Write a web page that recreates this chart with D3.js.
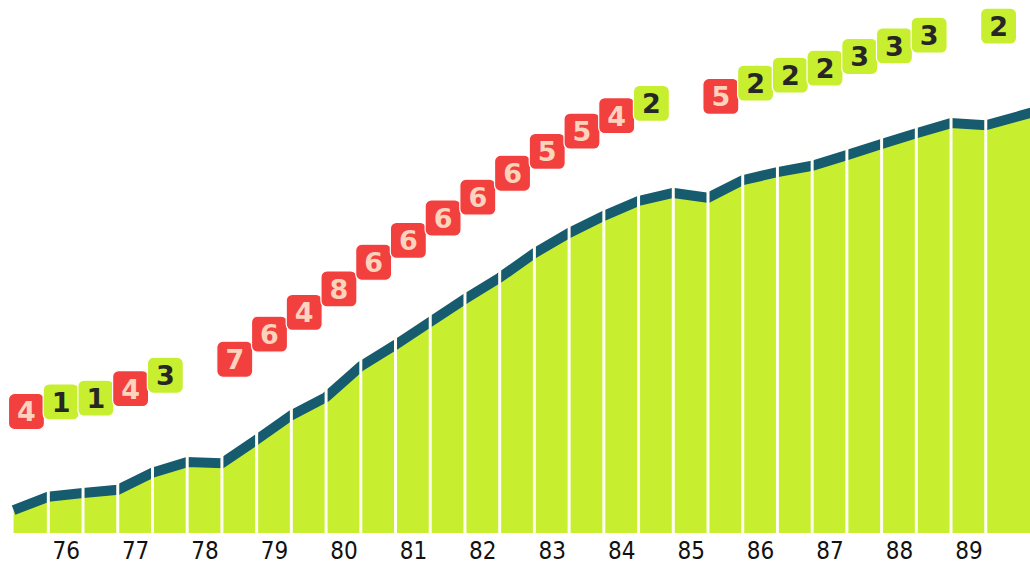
<!DOCTYPE html>
<html>
<head>
<meta charset="utf-8">
<script src="https://cdn.jsdelivr.net/npm/d3@7"></script>
<style>
  html, body { margin: 0; padding: 0; background: #fff; }
  svg { display: block; }
</style>
</head>
<body>
<svg id="chart" width="1030" height="564"></svg>
<script>
// ---- data (half-year steps, index 0 = start of chart) ----
const lineValues = [4.3, 6.8, 7.5, 8.1, 11.3, 13.3, 13.1, 17.5, 22.1, 25.5,
                    31.3, 35.3, 39.6, 43.9, 47.9, 52.5, 56.3, 59.5, 62.3, 63.8,
                    62.9, 66.2, 67.7, 68.9, 70.9, 73.0, 75.0, 76.9, 76.5, 78.3, 80.1];
const ranks = [4, 1, 1, 4, 3, null, 7, 6, 4, 8, 6, 6, 6, 6, 6, 5, 5, 4, 2, null,
               5, 2, 2, 2, 3, 3, 3, null, 2];
const labelLevels = [22.8, 24.6, 25.3, 27.1, 29.6, null, 32.6, 37.3, 41.4, 45.8,
                     50.8, 54.9, 59.1, 63.0, 67.5, 71.6, 75.4, 78.3, 80.6, null,
                     81.9, 84.4, 85.9, 87.2, 89.4, 91.4, 93.4, null, 95.1];
const yearLabels = ["76", "77", "78", "79", "80", "81", "82", "83", "84", "85", "86", "87", "88", "89"];

const W = 1030, H = 564;
const step = 34.72, x0 = 13.6, bottom = 533;
const svg = d3.select("#chart");

const x = d3.scaleLinear().domain([0, lineValues.length - 1])
  .range([x0, x0 + step * (lineValues.length - 1)]);
const y = d3.scaleLinear().domain([0, 100]).range([bottom, 0]);

svg.append("defs").append("clipPath").attr("id", "clip")
  .append("rect").attr("x", 0).attr("y", 0).attr("width", W).attr("height", H);

const g = svg.append("g").attr("clip-path", "url(#clip)");

// area
g.append("path")
  .datum(lineValues)
  .attr("fill", "#c8ef2f")
  .attr("d", d3.area().x((d, i) => x(i)).y0(bottom).y1(d => y(d)));

// thick line on top
g.append("path")
  .datum(lineValues)
  .attr("fill", "none")
  .attr("stroke", "#175b6f")
  .attr("stroke-width", 10)
  .attr("stroke-linejoin", "miter")
  .attr("d", d3.line().x((d, i) => x(i)).y(d => y(d)));

// white separators between the labelled segments
g.selectAll("line.sep")
  .data(d3.range(1, ranks.length))
  .join("line")
  .attr("class", "sep")
  .attr("x1", i => x(i)).attr("x2", i => x(i))
  .attr("y1", i => y(lineValues[i]) - 12).attr("y2", bottom + 1)
  .attr("stroke", "#fffef4")
  .attr("stroke-width", 3);

// year axis
const axis = d3.axisBottom(x)
  .tickValues(yearLabels.map((d, i) => 2 * i + 1.5))
  .tickFormat((d, i) => yearLabels[i])
  .tickSize(0).tickPadding(0);
const ax = svg.append("g").attr("transform", `translate(0,${bottom})`).call(axis);
ax.select(".domain").remove();
ax.selectAll("text")
  .attr("y", 0)
  .attr("dy", 0)
  .attr("transform", "translate(0,25.5)")
  .attr("fill", "#111")
  .style("font-family", "'DejaVu Sans Condensed', 'DejaVu Sans', sans-serif")
  .style("font-size", "24px");

// rank labels
const boxes = ranks.map((r, i) => ({ r, i, v: labelLevels[i] })).filter(d => d.r !== null);
const bg = svg.append("g").selectAll("g.box").data(boxes).join("g")
  .attr("class", "box")
  .attr("transform", d => `translate(${x(d.i + 0.5) - 4.5},${y(d.v)})`);
bg.append("rect")
  .attr("x", -18).attr("y", -18).attr("width", 36).attr("height", 36)
  .attr("rx", 6).attr("ry", 6)
  .attr("fill", d => d.r >= 4 ? "#f2403f" : "#c8ef2f")
  .attr("stroke", "#fff").attr("stroke-width", 1.2);
bg.append("text")
  .attr("text-anchor", "middle")
  .attr("dy", "0.37em")
  .attr("fill", d => d.r >= 4 ? "#fcd3bd" : "#262626")
  .style("font-family", "'DejaVu Sans', sans-serif")
  .style("font-weight", "bold")
  .style("font-size", "27px")
  .text(d => d.r);
</script>
</body>
</html>
